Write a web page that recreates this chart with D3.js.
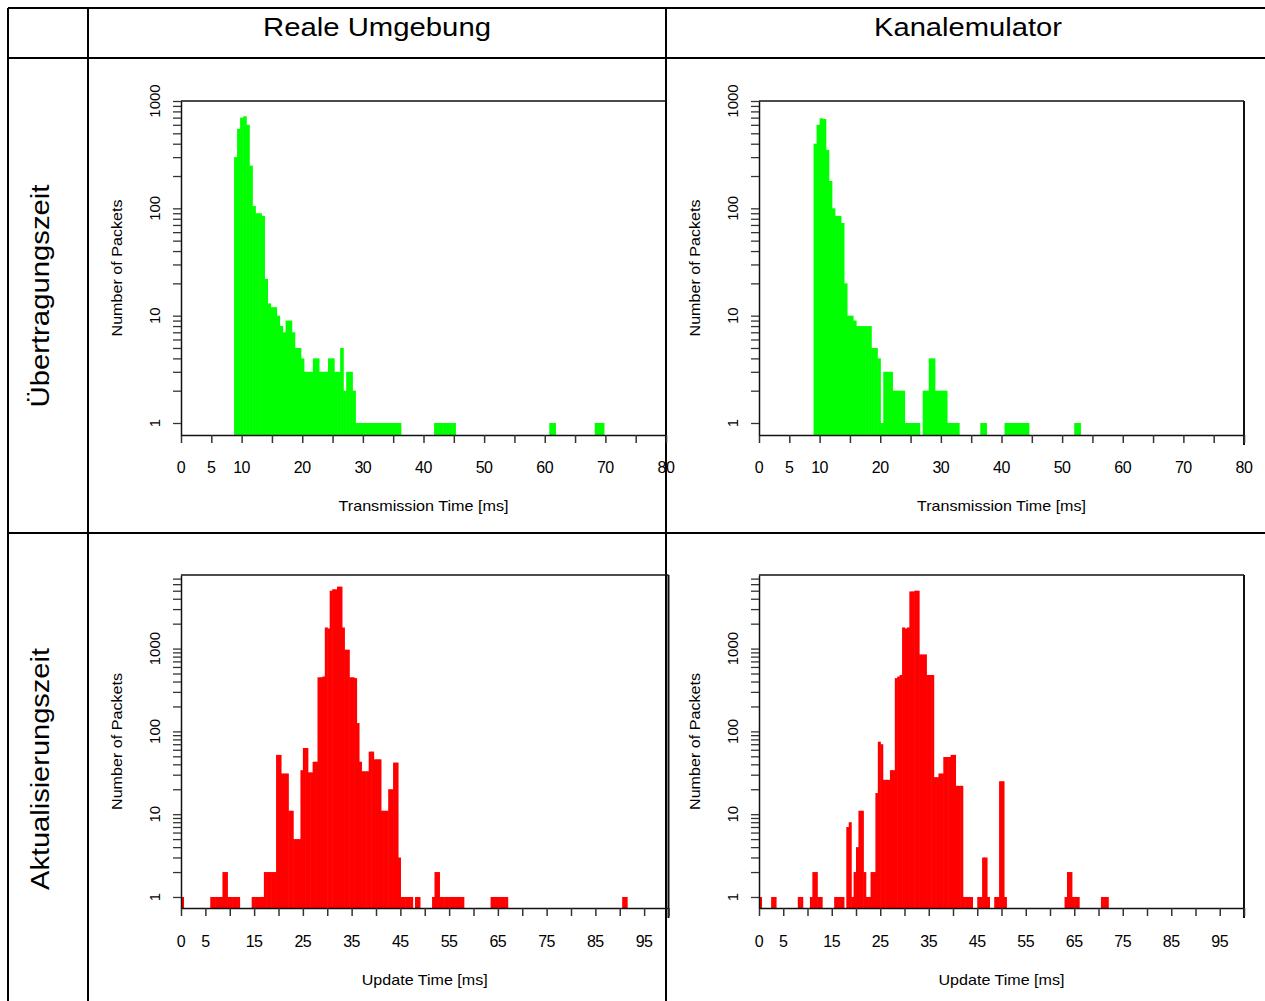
<!DOCTYPE html>
<html><head><meta charset="utf-8">
<script src="https://cdn.jsdelivr.net/npm/d3@7"></script>
<style>
body{margin:0;background:#fff}
text{font-family:"Liberation Sans",Arial,sans-serif;fill:#000}
</style>
</head><body><script>
// ---------------- DATA ----------------
const columnTitles = ["Reale Umgebung", "Kanalemulator"];
const rowTitles = ["Übertragungszeit", "Aktualisierungszeit"];

const transXTicks = [0,5,10,15,20,25,30,35,40,45,50,55,60,65,70,75,80];
const transXLabels = [0,5,10,20,30,40,50,60,70,80];
const updateXTicks = [0,5,10,15,20,25,30,35,40,45,50,55,60,65,70,75,80,85,90,95,100];
const updateXLabels = [0,5,15,25,35,45,55,65,75,85,95];
const yLabels = [1,10,100,1000];

// Transmission time, real environment (bin width 0.5 ms, bin starts)
const transRealStarts = [8.75,9.25,9.75,10.25,10.75,11.25,11.75,12.25,12.75,13.25,13.75,14.25,14.75,15.25,15.75,16.25,16.75,17.25,17.75,18.25,18.75,19.25,19.75,20.25,20.75,21.25,21.75,22.25,22.75,23.25,23.75,24.25,24.75,25.25,25.75,26.25,26.75,27.25,27.75,28.25,28.75,29.25,29.75,30.25,30.75,31.25,31.75,32.25,32.75,33.25,33.75,34.25,34.75,35.25,35.75,41.75,42.25,42.75,43.25,43.75,44.25,44.75,60.75,61.25,68.25,68.75,69.25];
const transRealCounts = [300,550,700,720,600,250,105,90,90,85,22,13,12,12,10,8,7,9,9,7,5,5,4,3,3,3,4,4,3,3,3,4,4,3,3,5,2,3,3,2,1,1,1,1,1,1,1,1,1,1,1,1,1,1,1,1,1,1,1,1,1,1,1,1,1,1,1];

// Transmission time, channel emulator
const transEmuStarts = [9.0,9.5,10.0,10.5,11.0,11.5,12.0,12.5,13.0,13.5,14.0,14.5,15.0,15.5,16.0,16.5,17.0,17.5,18.0,18.5,19.0,19.5,20.0,20.5,21.0,21.5,22.0,22.5,23.0,23.5,24.0,24.5,25.0,25.5,26.0,27.0,27.5,28.0,28.5,29.0,29.5,30.0,30.5,31.0,31.5,32.0,32.5,36.5,37.0,40.5,41.0,41.5,42.0,42.5,43.0,43.5,44.0,52.0,52.5];
const transEmuCounts = [400,600,690,680,350,180,100,85,85,73,20,10,10,9,8,8,8,8,8,5,5,4,1,3,3,3,2,2,2,2,1,1,1,1,1,2,2,4,4,2,2,2,2,1,1,1,1,1,1,1,1,1,1,1,1,1,1,1,1];

// Update time, real environment (bin width 0.5 ms)
const updateRealStarts = [0.0,6.0,6.5,7.0,7.5,8.0,8.5,9.0,9.5,10.0,10.5,11.0,11.5,14.5,15.0,15.5,16.0,16.5,17.0,17.5,18.0,18.5,19.0,19.5,20.0,20.5,21.0,21.5,22.0,22.5,23.0,23.5,24.0,24.5,25.0,25.5,26.0,26.5,27.0,27.5,28.0,28.5,29.0,29.5,30.0,30.5,31.0,31.5,32.0,32.5,33.0,33.5,34.0,34.5,35.0,35.5,36.0,36.5,37.0,37.5,38.0,38.5,39.0,39.5,40.0,40.5,41.0,41.5,42.0,42.5,43.0,43.5,44.0,44.5,45.0,45.5,46.0,46.5,47.0,48.0,48.5,51.5,52.0,52.5,53.0,53.5,54.0,54.5,55.0,55.5,56.0,56.5,57.0,57.5,63.5,64.0,64.5,65.0,65.5,66.0,66.5,90.5,91.0];
const updateRealCounts = [1,1,1,1,1,1,2,2,1,1,1,1,1,1,1,1,1,1,2,2,2,2,2,52,52,31,31,31,11,11,5,5,5,34,63,63,32,32,43,43,450,450,460,1800,1750,5000,5200,5200,5600,5600,1800,970,970,450,450,440,126,43,33,33,33,57,57,46,46,46,11,11,11,20,20,42,42,3,1,1,1,1,1,1,1,1,2,2,1,1,1,1,1,1,1,1,1,1,1,1,1,1,1,1,1,1,1,1];

// Update time, channel emulator
const updateEmuStarts = [0.0,2.5,3.0,8.0,8.5,10.5,11.0,11.5,12.0,12.5,15.5,16.0,16.5,17.0,18.0,18.5,19.0,19.5,20.0,20.5,21.0,21.5,22.0,22.5,23.0,23.5,24.0,24.5,25.0,25.5,26.0,26.5,27.0,27.5,28.0,28.5,29.0,29.5,30.0,30.5,31.0,31.5,32.0,32.5,33.0,33.5,34.0,34.5,35.0,35.5,36.0,36.5,37.0,37.5,38.0,38.5,39.0,39.5,40.0,40.5,41.0,41.5,42.0,42.5,43.0,43.5,45.0,45.5,46.0,46.5,47.0,48.5,49.0,49.5,50.0,50.5,63.0,63.5,64.0,64.5,65.0,65.5,70.5,71.0,71.5];
const updateEmuCounts = [1,1,1,1,1,1,2,2,1,1,1,1,1,1,7,8,1,2,4,11,11,2,1,1,2,2,18,75,70,26,26,26,34,34,440,460,480,1800,1750,1800,4900,4900,5000,5000,850,850,850,480,480,480,28,28,31,31,49,49,49,52,52,22,22,22,1,1,1,1,1,1,3,3,1,1,1,25,25,1,1,2,2,1,1,1,1,1,1];

// ---------------- DRAW ----------------
const W = 1265, H = 1001;
const svg = d3.select("body").append("svg").attr("width", W).attr("height", H);

// table grid
const grid = svg.append("g").attr("stroke", "#000").attr("stroke-width", 2).attr("fill", "none");
[[8,8,1265,8],[8,58,1265,58],[8,533,1265,533],[8,8,8,1001],[88,8,88,1001],[666,8,666,1001]]
  .forEach(l => grid.append("line").attr("x1", l[0]).attr("y1", l[1]).attr("x2", l[2]).attr("y2", l[3]));

function fitText(sel, len) { sel.attr("textLength", len).attr("lengthAdjust", "spacingAndGlyphs"); }

// column headers
const colCenters = [377, 968], colLens = [228, 188];
columnTitles.forEach((t, i) => {
  svg.append("text").attr("x", colCenters[i]).attr("y", 36).attr("text-anchor", "middle")
    .attr("font-size", 25).text(t).call(fitText, colLens[i]);
});
// row headers
const rowCenters = [296, 769], rowLens = [223, 242];
rowTitles.forEach((t, i) => {
  svg.append("text").attr("transform", `translate(49,${rowCenters[i]}) rotate(-90)`)
    .attr("text-anchor", "middle").attr("font-size", 25).text(t).call(fitText, rowLens[i]);
});

const panels = [
  {starts: transRealStarts, counts: transRealCounts, binW: 0.5, color: "#00ff00",
   xr: [181, 666], yr: [435, 101], xd: [0, 80], yd: [0.773, 1000],
   xTicks: transXTicks, xLabels: transXLabels, title: "Transmission Time [ms]", titleLen: 170,
   labelY: 473, titleY: 511, yTitleX: 122, yLabelX: 155, rightLine: false},
  {starts: transEmuStarts, counts: transEmuCounts, binW: 0.5, color: "#00ff00",
   xr: [759, 1244], yr: [435, 101], xd: [0, 80], yd: [0.773, 1000],
   xTicks: transXTicks, xLabels: transXLabels, title: "Transmission Time [ms]", titleLen: 169,
   labelY: 473, titleY: 511, yTitleX: 700, yLabelX: 733, rightLine: true},
  {starts: updateRealStarts, counts: updateRealCounts, binW: 0.5, color: "#ff0000",
   xr: [181, 668.5], yr: [908, 575], xd: [0, 100], yd: [0.736, 7740],
   xTicks: updateXTicks, xLabels: updateXLabels, title: "Update Time [ms]", titleLen: 126,
   labelY: 947, titleY: 985, yTitleX: 122, yLabelX: 155, rightLine: true},
  {starts: updateEmuStarts, counts: updateEmuCounts, binW: 0.5, color: "#ff0000",
   xr: [759, 1244], yr: [908, 575], xd: [0, 100], yd: [0.736, 7740],
   xTicks: updateXTicks, xLabels: updateXLabels, title: "Update Time [ms]", titleLen: 126,
   labelY: 947, titleY: 985, yTitleX: 700, yLabelX: 733, rightLine: true}
];

panels.forEach(p => {
  const xs = d3.scaleLinear().domain(p.xd).range(p.xr);
  const ys = d3.scaleLog().domain(p.yd).range(p.yr);
  const g = svg.append("g");
  const data = p.starts.map((s, i) => ({s, c: p.counts[i]}));
  g.selectAll("rect.bar").data(data).join("rect").attr("class", "bar")
    .attr("x", d => xs(d.s)).attr("width", d => xs(d.s + p.binW) - xs(d.s) + 0.6)
    .attr("y", d => ys(d.c)).attr("height", d => ys(p.yd[0]) - ys(d.c))
    .attr("fill", p.color);

  // frame: top + right
  g.append("line").attr("x1", p.xr[0]).attr("x2", p.xr[1]).attr("y1", p.yr[1]).attr("y2", p.yr[1])
    .attr("stroke", "#111").attr("stroke-width", 1.5);
  if (p.rightLine) g.append("line").attr("x1", p.xr[1]).attr("x2", p.xr[1]).attr("y1", p.yr[1]).attr("y2", p.yr[0] + 10)
    .attr("stroke", "#111").attr("stroke-width", 2);

  // x axis
  const xa = g.append("g").attr("transform", `translate(0,${p.yr[0]})`)
    .call(d3.axisBottom(xs).tickValues(p.xTicks).tickSize(8).tickSizeOuter(0).tickFormat(""));
  xa.select(".domain").attr("stroke", "#111").attr("stroke-width", 1.5);
  xa.selectAll(".tick line").attr("stroke", "#333").attr("stroke-width", 1.5);
  g.selectAll("text.xl").data(p.xLabels).join("text").attr("class", "xl")
    .attr("x", d => xs(d)).attr("y", p.labelY).attr("text-anchor", "middle")
    .attr("font-size", 16).attr("letter-spacing", -0.5).text(d => d);
  g.append("text").attr("x", (p.xr[0] + p.xr[1]) / 2).attr("y", p.titleY).attr("text-anchor", "middle")
    .attr("font-size", 15).text(p.title).call(fitText, p.titleLen);

  // y axis
  const yt = ys.ticks().filter(v => v >= 1);
  const ya = g.append("g").attr("transform", `translate(${p.xr[0]},0)`)
    .call(d3.axisLeft(ys).tickValues(yt).tickSize(8).tickSizeOuter(0).tickFormat(""));
  ya.select(".domain").attr("stroke", "#111").attr("stroke-width", 1.5);
  ya.selectAll(".tick line").attr("stroke", "#333").attr("stroke-width", 1.3);
  g.selectAll("text.yl").data(yLabels.filter(v => v <= p.yd[1])).join("text").attr("class", "yl")
    .attr("transform", d => `translate(${p.yLabelX},${ys(d)}) rotate(-90)`)
    .attr("text-anchor", "middle").attr("dy", "0.35em").attr("font-size", 15).text(d => d);
  g.append("text").attr("transform", `translate(${p.yTitleX},${(p.yr[0] + p.yr[1]) / 2}) rotate(-90)`)
    .attr("text-anchor", "middle").attr("font-size", 14).text("Number of Packets").call(fitText, 137);
});
</script></body></html>
